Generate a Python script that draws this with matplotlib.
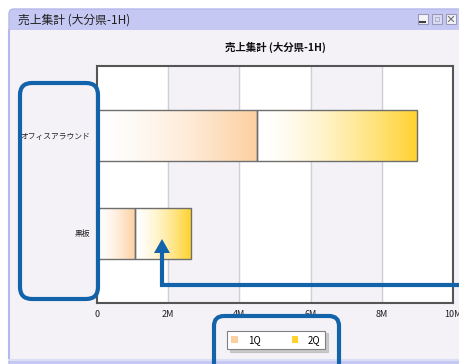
import numpy as np
import matplotlib
matplotlib.use("Agg")
import matplotlib.pyplot as plt
from matplotlib.patches import FancyBboxPatch, Rectangle, Polygon
from matplotlib.colors import LinearSegmentedColormap

plt.rcParams['font.family'] = ['Noto Sans CJK JP', 'DejaVu Sans']

# Data (values in millions)
categories = ['黒板', 'オフィスアラウンド']
q1 = [1.07, 4.5]
q2 = [1.57, 4.5]
series_names = ['1Q', '2Q']
series_colors = ['#fdcfa0', '#ffd22e']
xticks = [0, 2, 4, 6, 8, 10]
xtick_labels = ['0', '2M', '4M', '6M', '8M', '10M']

W, H = 460, 364
fig = plt.figure(figsize=(W / 100, H / 100), dpi=100)
fig.patch.set_facecolor('white')

def fx(x):
    return x / W

def fy(y):
    return 1 - y / H

# Window chrome (pixel coordinates)
bg = fig.add_axes([0, 0, 1, 1], zorder=-1)
bg.set_xlim(0, W)
bg.set_ylim(H, 0)
bg.axis('off')
bg.add_patch(FancyBboxPatch((9, 9), 470, 400, boxstyle="round,pad=0,rounding_size=5",
                            facecolor='#c5c8f3', edgecolor='#b4b8ea', lw=1))
bg.add_patch(Rectangle((10, 30), 460, 329, facecolor='#f4f2f7', edgecolor='none'))
bg.plot([9.5, 9.5], [30, 360], color='#b4b8ea', lw=1.5)
bg.plot([9, 460], [360, 360], color='#dcdef6', lw=1.5)
bg.text(18, 20, '売上集計 (大分県-1H)', fontsize=8.5, color='#202020', va='center', ha='left')
# window buttons
for bx, fc in [(418, '#f4f4f8'), (432, '#dcdcf4'), (446, '#f4f4f8')]:
    bg.add_patch(Rectangle((bx, 14), 10, 10, facecolor=fc, edgecolor='#9a9ab8', lw=0.8))
bg.plot([420.5, 425.5], [21.5, 21.5], color='#404040', lw=1.5)
bg.add_patch(Rectangle((435, 17), 4, 4, facecolor='none', edgecolor='#b0b0d0', lw=0.7))
bg.plot([448.5, 453.5], [16.5, 21.5], color='#707070', lw=0.8)
bg.plot([448.5, 453.5], [21.5, 16.5], color='#707070', lw=0.8)

# Chart
left, right, top, bottom = 97, 453, 66, 303
ax = fig.add_axes([fx(left), fy(bottom), fx(right - left), (bottom - top) / H], zorder=1)
ax.set_facecolor('white')
for i in range(1, len(xticks) - 1, 2):
    ax.axvspan(xticks[i], xticks[i + 1], color='#f4f2f7', zorder=0)
for t in xticks[1:-1]:
    ax.axvline(t, color='#cfcfd4', lw=1, zorder=0.5)

ypos = np.arange(len(categories))
bars1 = ax.barh(ypos, q1, height=0.52, facecolor='none', edgecolor='#6e6e6e', lw=1, zorder=3)
bars2 = ax.barh(ypos, q2, left=q1, height=0.52, facecolor='none', edgecolor='#6e6e6e', lw=1, zorder=3)

grad = np.linspace(0, 1, 256) ** 1.5
grad = grad.reshape(1, -1)
for bars, col in zip([bars1, bars2], series_colors):
    cmap = LinearSegmentedColormap.from_list('g', ['#ffffff', col])
    for r in bars:
        x0, y0 = r.get_x(), r.get_y()
        ax.imshow(grad, cmap=cmap, aspect='auto', zorder=2,
                  extent=[x0, x0 + r.get_width(), y0, y0 + r.get_height()],
                  interpolation='bicubic')

ax.set_xlim(0, 10)
ax.set_ylim(-0.71, 1.71)
ax.set_xticks(xticks)
ax.set_xticklabels(xtick_labels, fontsize=6.5)
ax.set_yticks(ypos)
ax.set_yticklabels(categories, fontsize=5.6)
ax.tick_params(axis='y', length=0, pad=5, colors='#202020')
ax.tick_params(axis='x', length=0, pad=5, colors='#202020')
for s in ax.spines.values():
    s.set_color('#555555')
    s.set_linewidth(1.5)

fig.text(fx(275), fy(47), '売上集計 (大分県-1H)', fontsize=7.5, fontweight='bold',
         ha='center', va='center', color='#101010')

handles = [Rectangle((0, 0), 1, 1, facecolor=c, edgecolor='none') for c in series_colors]
leg = fig.legend(handles, series_names, loc='center', bbox_to_anchor=(fx(276), fy(340)),
                 ncol=2, fontsize=7, frameon=True, fancybox=False,
                 shadow={'color': '#b8b8b8', 'alpha': 0.7},
                 handlelength=0.7, handleheight=0.7, columnspacing=3.2, handletextpad=1.0,
                 borderpad=0.45)
leg.get_frame().set_edgecolor('#808080')
leg.get_frame().set_linewidth(0.8)

# Blue annotations on top
ov = fig.add_axes([0, 0, 1, 1], zorder=10)
ov.set_xlim(0, W)
ov.set_ylim(H, 0)
ov.axis('off')
blue = '#1263a9'
ov.add_patch(FancyBboxPatch((20, 83), 78, 216, boxstyle="round,pad=0,rounding_size=12",
                            facecolor='none', edgecolor=blue, lw=3))
ov.add_patch(FancyBboxPatch((214, 316), 125, 60, boxstyle="round,pad=0,rounding_size=10",
                            facecolor='none', edgecolor=blue, lw=3))
ov.plot([462, 162, 162], [285, 285, 250], color=blue, lw=3, solid_joinstyle='miter')
ov.add_patch(Polygon([[162, 239], [154, 253], [170, 253]], closed=True,
                     facecolor=blue, edgecolor='none'))

fig.savefig('out.png', dpi=100)
